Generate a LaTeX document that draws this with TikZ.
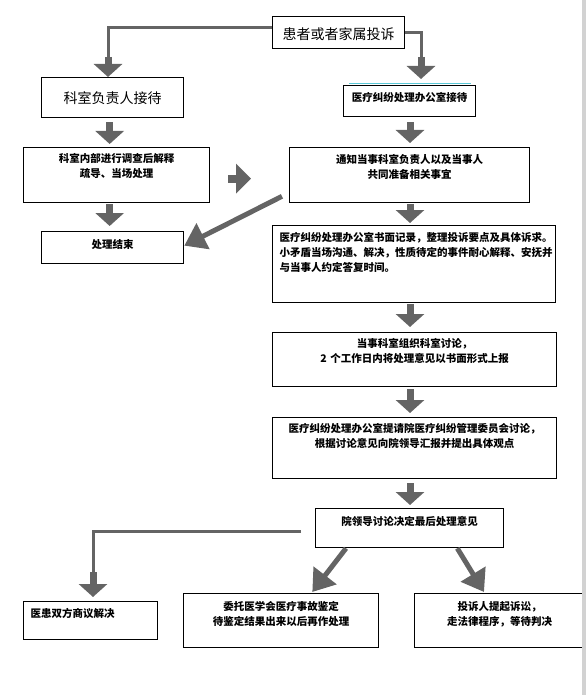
\documentclass[tikz,border=0pt]{standalone}
\usepackage{fontspec}
\newfontfamily\cjk{Noto Sans CJK SC}
\usetikzlibrary{arrows.meta}
\definecolor{arrowgray}{RGB}{100,100,100}
\definecolor{edgecyan}{RGB}{90,200,215}
\tikzset{
  box/.style={draw, line width=1.3pt, anchor=north west, inner xsep=0pt, inner ysep=0pt,
    align=center, font=\cjk\bfseries\fontsize{10.5pt}{15pt}\selectfont},
  leftbox/.style={box, align=left, inner xsep=7pt},
  bigtext/.style={font=\cjk\fontsize{14pt}{16pt}\selectfont},
  elbow/.style={draw=arrowgray, line width=3pt},
  downarrow/.style={draw=arrowgray, line width=7pt, -{Triangle[width=28pt,length=13pt]}},
  rightarrow/.style={draw=arrowgray, line width=8pt, -{Triangle[width=29pt,length=15pt]}},
  slant/.style={draw=arrowgray, line width=5pt, -{Triangle[width=28pt,length=21pt]}}
}
\begin{document}
\begin{tikzpicture}[x=1pt, y=-1pt]
\useasboundingbox (0,0) rectangle (586,695);
% boxes
\node[box, bigtext, text width=132pt, text height=23.3pt, text depth=8.7pt] (complain) at (272,16) {患者或者家属投诉};
\node[box, bigtext, text width=142pt, text height=25.8pt, text depth=14.2pt] (dept) at (41,77) {科室负责人接待};
\node[box, text width=132pt, text height=16pt, text depth=15pt] (office) at (343,85) {医疗纠纷处理办公室接待};
\node[box, text width=186pt, text height=15pt, text depth=40pt] (inner) at (23,147) {科室内部进行调查后解释\\疏导、当场处理};
\node[box, text width=240pt, text height=16pt, text depth=39pt] (notify) at (289,147) {通知当事科室负责人以及当事人\\共同准备相关事宜};
\node[box, text width=142pt, text height=17pt, text depth=15pt] (end) at (41,231) {处理结束};
\node[leftbox, text width=269pt, text height=16pt, text depth=61pt] (record) at (272,225) {医疗纠纷处理办公室书面记录，整理投诉要点及具体诉求。\\小矛盾当场沟通、解决，性质待定的事件耐心解释、安抚并\\与当事人约定答复时间。};
\node[box, text width=284pt, text height=15pt, text depth=39pt] (disc) at (272,332) {当事科室组织科室讨论，\\2 个工作日内将处理意见以书面形式上报};
\node[box, text width=284pt, text height=15pt, text depth=46pt] (committee) at (272,417) {医疗纠纷处理办公室提请院医疗纠纷管理委员会讨论，\\根据讨论意见向院领导汇报并提出具体观点};
\node[box, text width=188pt, text height=17pt, text depth=22pt] (leader) at (315,508) {院领导讨论决定最后处理意见};
\node[leftbox, text width=120pt, text height=16pt, text depth=22pt] (consult) at (23,601) {医患双方商议解决};
\node[box, text width=195pt, text height=17pt, text depth=37pt] (entrust) at (183,593) {委托医学会医疗事故鉴定\\待鉴定结果出来以后再作处理};
\node[box, text width=170pt, text height=17pt, text depth=37pt] (sue) at (414,593) {投诉人提起诉讼，\\走法律程序，等待判决};
\draw[edgecyan, line width=1pt] (349,84) -- (471,84);
% connectors
\coordinate (tl) at (108,57);
\coordinate (tr) at (421,57);
\coordinate (bl) at (93,572);
\coordinate (col) at (410,0);
\draw[elbow] ([yshift=5pt]complain.west) -| (tl);
\draw[downarrow] (tl) -- (tl |- dept.north);
\draw[elbow] (complain.east) -| (tr);
\draw[downarrow] (tr) -- ([yshift=6pt]tr |- office.north);
\draw[downarrow] ([xshift=-3pt,yshift=-4pt]dept.south) -- ([xshift=-3pt,yshift=3pt]dept.south |- inner.north);
\draw[downarrow] ([xshift=-3pt,yshift=-1pt]end.north |- inner.south) -- ([xshift=-3pt,yshift=5pt]end.north);
\foreach \a/\b/\s/\e in {office/notify/5/4, notify/record/1/2, record/disc/1/5, disc/committee/2/4, committee/leader/4/3}
  \draw[downarrow] ([yshift=-\s pt]col |- \a.south) -- ([yshift=\e pt]col |- \b.north);
\draw[rightarrow, shorten <=18pt, shorten >=38pt] ([yshift=-3.5pt]inner.east) -- ([yshift=-3.5pt]notify.west);
\draw[slant] ([xshift=-7pt,yshift=7pt]notify.south west) -- ([yshift=2pt]end.east);
\draw[elbow] ([xshift=-14pt,yshift=-3.5pt]leader.west) -| (bl);
\draw[downarrow] (bl) -- ([yshift=4pt]bl |- consult.north);
\draw[slant] ([xshift=31pt]leader.south west) -- ([xshift=-67pt,yshift=1pt]entrust.north east);
\draw[slant] ([xshift=-47pt]leader.south east) -- ([xshift=70pt,yshift=1pt]sue.north west);
% page edge
\fill[gray!35] (582,0) rectangle (586,695);
\end{tikzpicture}
\end{document}
